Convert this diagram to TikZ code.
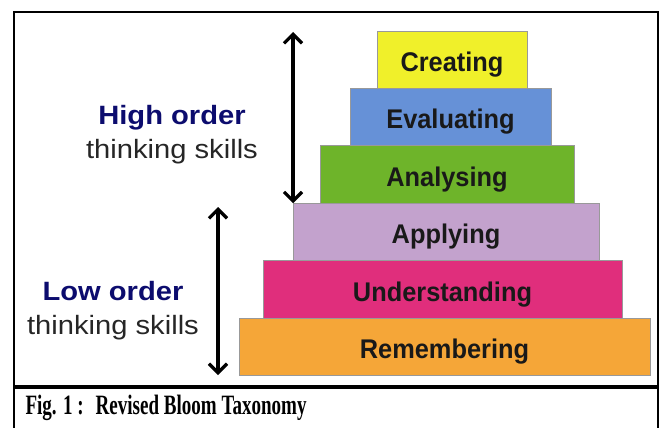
\documentclass[tikz,border=0pt]{standalone}
\usepackage{fontspec}
\setmainfont{Liberation Sans}
\newfontfamily\sidefont[FakeStretch=1.1]{Liberation Sans}
\newfontfamily\stepfont[FakeStretch=0.94]{Liberation Sans}
\newfontfamily\capfont[FakeStretch=0.68]{Liberation Serif}
\usetikzlibrary{arrows.meta}
\definecolor{creatingyellow}{HTML}{F0F02A}
\definecolor{evaluatingblue}{HTML}{6691D7}
\definecolor{analysinggreen}{HTML}{6EB42A}
\definecolor{applyinglilac}{HTML}{C3A2CD}
\definecolor{understandingpink}{HTML}{E02E7C}
\definecolor{rememberingorange}{HTML}{F5A638}
\definecolor{ordernavy}{HTML}{0C0C6E}
\begin{document}
\begin{tikzpicture}[x=1pt,y=-1pt,level_node/.style={rectangle,draw=black!40,line width=0.7pt,inner sep=0pt,outer sep=0pt,minimum height=57.5pt,text height=23pt,text depth=0pt,text=black!90,font=\stepfont\bfseries\fontsize{27}{30}\selectfont},side_label/.style={align=center,text=black!85,font=\sidefont\fontsize{26.5}{34}\selectfont},range_arrow/.style={{Straight Barb[length=9pt,width=18pt]}-{Straight Barb[length=9pt,width=18pt]},line width=3.3pt}]
		\useasboundingbox (0,0) rectangle (662,428);

		% the six levels, from the top down
		\node[level_node,fill=creatingyellow,minimum width=150pt] (6) at (452,60) {Creating};
		\node[level_node,fill=evaluatingblue,minimum width=201pt] (5) at (450.5,117) {Evaluating};
		\node[level_node,fill=analysinggreen,minimum width=254pt] (4) at (447,174.5) {Analysing};
		\node[level_node,fill=applyinglilac,minimum width=306pt] (3) at (446,232) {Applying};
		\node[level_node,fill=understandingpink,minimum width=359pt] (2) at (442.5,289.5) {Understanding};
		\node[level_node,fill=rememberingorange,minimum width=411pt] (1) at (444.5,347) {Remembering};

		\node[side_label] (high) at (172,135) {{\color{ordernavy}\bfseries High order}\\thinking skills};
		\node[side_label] (low) at (113,311) {{\color{ordernavy}\bfseries Low order}\\thinking skills};

		\coordinate (high_top) at (293,32);
		\coordinate (low_top) at (218,207);
		\coordinate (low_bottom) at (218,375);
		\draw[range_arrow] (high_top) -- (3.north west);
		\draw[range_arrow] (low_top) -- (low_bottom);

		% frame and caption
		\draw[line width=2.5pt] (14,428) -- (14,12) -- (658,12) -- (658,428);
		\draw[line width=4pt] (14,387) -- (658,387);
		\node[anchor=base west,font=\capfont\bfseries\fontsize{28}{30}\selectfont] (caption) at (22,414) {Fig. 1 :\hspace{12pt}Revised Bloom Taxonomy};
		\end{tikzpicture}
\end{document}
